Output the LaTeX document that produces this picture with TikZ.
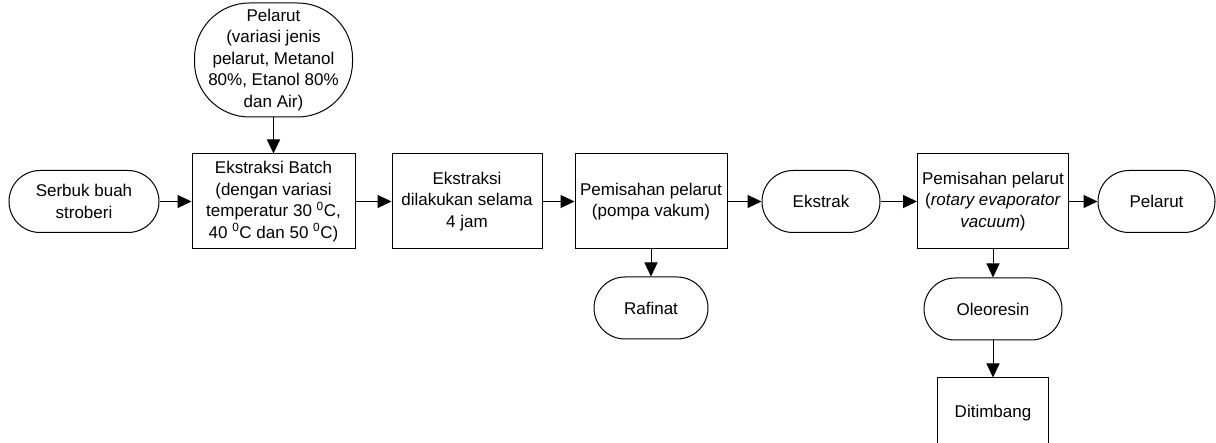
\documentclass[tikz,border=0pt]{standalone}
\usepackage{fontspec}
\setmainfont{Liberation Sans}
\usetikzlibrary{arrows.meta}
\begin{document}
\begin{tikzpicture}[x=1pt,y=-1pt,
  box/.style={draw,line width=1pt,inner sep=0pt,align=center,font=\fontsize{17}{21.5}\selectfont},
  term/.style={box,minimum height=62pt,rounded corners=31pt},
  arr/.style={line width=1pt,-{Triangle[length=14pt,width=13pt]}}]
\useasboundingbox (0,0) rectangle (1216,443);
\clip (0,0) rectangle (1216,443);
\node[term,minimum width=150pt] (serbuk) at (84,201.5) {Serbuk buah\\stroberi};
\node[box,minimum width=158pt,minimum height=114pt,rounded corners=55pt] (pelarutA) at (273.5,60)
  {Pelarut\\(variasi jenis\\pelarut, Metanol\\80\%, Etanol 80\%\\dan Air)};
\node[box,minimum width=163pt,minimum height=95pt] (batch) at (273.5,201.5)
  {Ekstraksi Batch\\(dengan variasi\\temperatur 30 \textsuperscript{0}C,\\40 \textsuperscript{0}C dan 50 \textsuperscript{0}C)};
\node[box,minimum width=150pt,minimum height=95pt] (ekstraksi) at (467,201.5)
  {Ekstraksi\\dilakukan selama\\4 jam};
\node[box,minimum width=152pt,minimum height=95pt] (pompa) at (651,201.5)
  {Pemisahan pelarut\\(pompa vakum)};
\node[term,minimum width=118pt] (ekstrak) at (821,201.5) {Ekstrak};
\node[term,minimum width=114pt] (rafinat) at (651,308) {Rafinat};
\node[box,minimum width=151pt,minimum height=95pt] (rotary) at (993,201.5)
  {Pemisahan pelarut\\(\textit{rotary evaporator}\\\textit{vacuum})};
\node[term,minimum width=117pt] (pelarutB) at (1156.5,201.5) {Pelarut};
\node[term,minimum width=138pt] (oleo) at (993,309) {Oleoresin};
\node[box,minimum width=111pt,minimum height=70pt] (timbang) at (993,413) {Ditimbang};
\draw[arr] (serbuk) -- (batch);
\draw[arr] (pelarutA) -- (batch);
\draw[arr] (batch) -- (ekstraksi);
\draw[arr] (ekstraksi) -- (pompa);
\draw[arr] (pompa) -- (ekstrak);
\draw[arr] (pompa) -- (rafinat);
\draw[arr] (ekstrak) -- (rotary);
\draw[arr] (rotary) -- (pelarutB);
\draw[arr] (rotary) -- (oleo);
\draw[arr] (oleo) -- (timbang);
\end{tikzpicture}
\end{document}
